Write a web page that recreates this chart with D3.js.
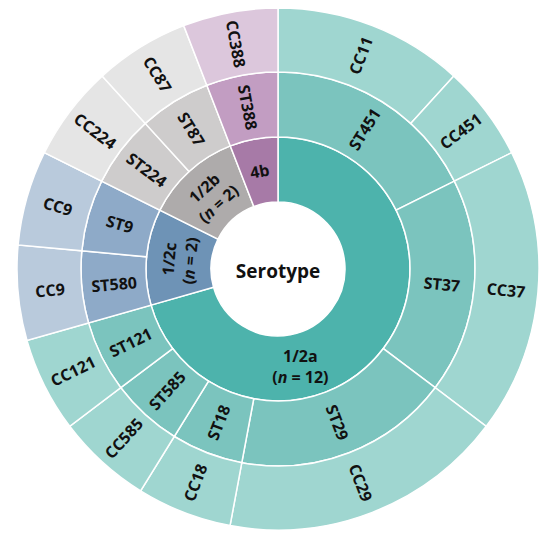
<!DOCTYPE html>
<html>
<head>
<meta charset="utf-8">
<script src="https://cdn.jsdelivr.net/npm/d3@7"></script>
<style>
    html, body { margin: 0; padding: 0; background: #fff; }
    text { font-family: "Open Sans", sans-serif; font-weight: 700; fill: #111; }
</style>
</head>
<body>
<svg id="chart" width="550" height="538"></svg>
<script>
"use strict";

// serotypes (inner ring)
var serotypes = ["1/2a", "1/2c", "1/2b", "4b"];
var serotypeN = [12, 2, 2, 1];

// sequence types (middle ring)
var sequenceTypes = ["ST451", "ST37", "ST29", "ST18", "ST585", "ST121", "ST580", "ST9", "ST224", "ST87", "ST388"];
var stSerotype = ["1/2a", "1/2a", "1/2a", "1/2a", "1/2a", "1/2a", "1/2c", "1/2c", "1/2b", "1/2b", "4b"];

// clonal complexes (outer ring), with their isolate counts
var clonalComplexes = ["CC11", "CC451", "CC37", "CC29", "CC18", "CC585", "CC121", "CC9", "CC9", "CC224", "CC87", "CC388"];
var ccST = ["ST451", "ST451", "ST37", "ST29", "ST18", "ST585", "ST121", "ST580", "ST9", "ST224", "ST87", "ST388"];
var ccCounts = [2, 1, 3, 3, 1, 1, 1, 1, 1, 1, 1, 1];

var palette = {
    "1/2a": ["#4db3ac", "#7bc4be", "#9fd6d0"],
    "1/2c": ["#6e93b6", "#8eaac8", "#b9cadc"],
    "1/2b": ["#aeabab", "#cecccc", "#e5e5e5"],
    "4b":   ["#a77aa7", "#c29dc2", "#dcc7dc"]
};

function build_tree() {
    var root = { name: "Serotype", children: [] };
    serotypes.forEach(function (s, i) {
        var sNode = { name: s, n: serotypeN[i], serotype: s, children: [] };
        sequenceTypes.forEach(function (st, j) {
            if (stSerotype[j] !== s) return;
            var stNode = { name: st, serotype: s, children: [] };
            clonalComplexes.forEach(function (cc, k) {
                if (ccST[k] !== st) return;
                stNode.children.push({ name: cc, serotype: s, value: ccCounts[k] });
            });
            sNode.children.push(stNode);
        });
        root.children.push(sNode);
    });
    return root;
}

function create_sunburst(selector) {
    var svg = d3.select(selector);
    var cx = 278, cy = 269;
    var ringR = [67, 132, 197, 261];

    var root = d3.hierarchy(build_tree())
        .sum(function (d) { return d.value || 0; });
    d3.partition().size([2 * Math.PI, 1])(root);

    var arc = d3.arc()
        .startAngle(function (d) { return d.x0; })
        .endAngle(function (d) { return d.x1; })
        .innerRadius(function (d) { return ringR[d.depth - 1]; })
        .outerRadius(function (d) { return ringR[d.depth]; });

    var g = svg.append("g").attr("transform", "translate(" + cx + "," + cy + ")");
    var nodes = root.descendants().filter(function (d) { return d.depth > 0; });

    g.selectAll("path.seg")
        .data(nodes)
        .enter().append("path")
        .attr("class", "seg")
        .attr("d", arc)
        .style("fill", function (d) { return palette[d.data.serotype][d.depth - 1]; })
        .style("stroke", "#fff")
        .style("stroke-width", 1.5);

    // big inner segment gets a flat label placed lower in its band
    var labelAngleOverride = { "1/2a": 167 };

    var labels = g.selectAll("g.lab")
        .data(nodes)
        .enter().append("g")
        .attr("class", "lab")
        .attr("transform", function (d) {
            var a = (d.x0 + d.x1) / 2 * 180 / Math.PI;
            var r = (ringR[d.depth - 1] + ringR[d.depth]) / 2;
            var rot;
            if (d.depth === 1 && labelAngleOverride[d.data.name] !== undefined) {
                a = labelAngleOverride[d.data.name];
                rot = 0;
            } else if (d.depth === 1) {
                rot = (a > 90 && a < 270) ? a - 180 : a;
            } else {
                rot = a < 180 ? a - 90 : a - 270;
            }
            var rad = a * Math.PI / 180;
            var x = r * Math.sin(rad), y = -r * Math.cos(rad);
            return "translate(" + x + "," + y + ") rotate(" + rot + ")";
        });

    labels.each(function (d) {
        var sel = d3.select(this);
        if (d.depth === 1 && d.data.n > 1) {
            sel.append("text")
                .attr("y", -10)
                .attr("text-anchor", "middle")
                .attr("dominant-baseline", "central")
                .style("font-size", "16px")
                .text(d.data.name);
            var t2 = sel.append("text")
                .attr("y", 11)
                .attr("text-anchor", "middle")
                .attr("dominant-baseline", "central")
                .style("font-size", "16px");
            t2.append("tspan").text("(");
            t2.append("tspan").style("font-style", "italic").text("n");
            t2.append("tspan").text(" = " + d.data.n + ")");
        } else {
            sel.append("text")
                .attr("text-anchor", "middle")
                .attr("dominant-baseline", "central")
                .style("font-size", "16px")
                .text(d.data.name);
        }
    });

    g.append("text")
        .attr("y", 2)
        .attr("text-anchor", "middle")
        .attr("dominant-baseline", "central")
        .style("font-size", "19px")
        .text(root.data.name);
}

create_sunburst("#chart");
</script>
</body>
</html>
